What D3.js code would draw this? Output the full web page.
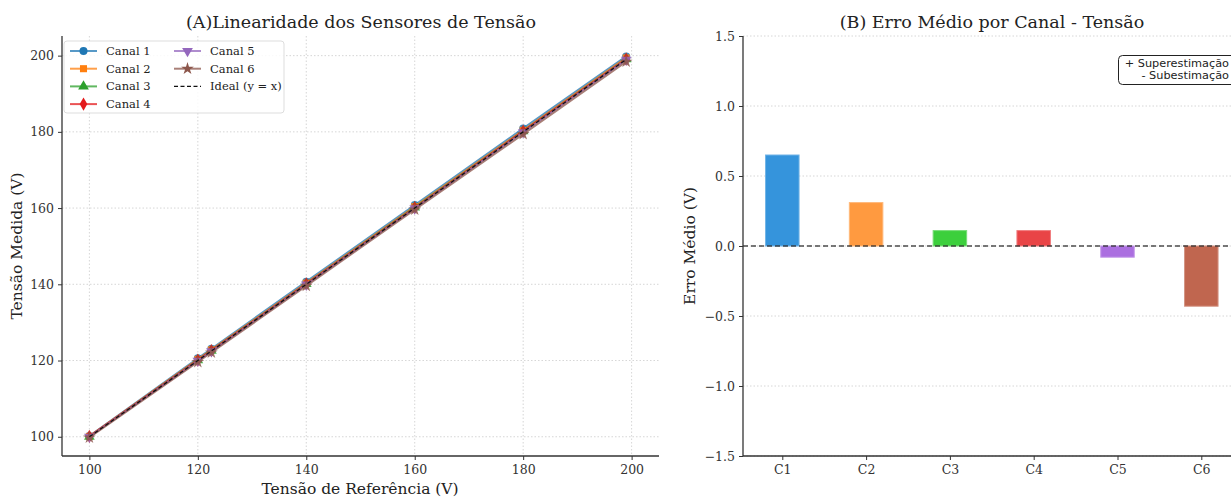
<!DOCTYPE html>
<html>
<head>
<meta charset="utf-8">
<script src="https://cdn.jsdelivr.net/npm/d3@7"></script>
<style>
  body { margin: 0; background: #fff; }
  svg { display: block; font-family: 'DejaVu Serif', serif; }
  .tick text { fill: #333; font-size: 12.5px; font-family: 'DejaVu Serif', serif; }
  .grid line { stroke: #ccc; stroke-dasharray: 1.5 2; stroke-width: 0.8; }
</style>
</head>
<body>
<svg id="chart" width="1231" height="497"></svg>
<script>
// reference voltages and measured values per channel
const refVoltage = [100, 120, 122.5, 140, 160, 180, 199]
const channelNames = ['Canal 1', 'Canal 2', 'Canal 3', 'Canal 4', 'Canal 5', 'Canal 6']
const canal1 = [100.2, 120.6, 123.1, 140.7, 160.8, 180.9, 199.8]
const canal2 = [100.1, 120.3, 122.8, 140.3, 160.4, 180.4, 199.4]
const canal3 = [100.0, 120.1, 122.6, 140.1, 160.2, 180.2, 199.1]
const canal4 = [100.1, 120.1, 122.6, 140.1, 160.1, 180.2, 199.1]
const canal5 = [100.0, 119.9, 122.4, 139.9, 159.9, 179.9, 198.9]
const canal6 = [99.8, 119.6, 122.1, 139.6, 159.6, 179.4, 198.4]
const lineColors = ['#1f77b4', '#ff7f0e', '#2ca02c', '#e31a1c', '#9467bd', '#8c564b']
const markerTypes = [d3.symbolCircle, d3.symbolSquare, d3.symbolTriangle, d3.symbolDiamond, 'down', d3.symbolStar]

// mean error per channel
const barLabels = ['C1', 'C2', 'C3', 'C4', 'C5', 'C6']
const meanError = [0.65, 0.31, 0.11, 0.11, -0.08, -0.43]
const barColors = ['#3594dc', '#ff9a40', '#3ccf3c', '#e94446', '#ab6fe0', '#c0664f']

const xTicksA = [100, 120, 140, 160, 180, 200]
const yTicksA = [100, 120, 140, 160, 180, 200]
const yTicksB = [-1.5, -1.0, -0.5, 0.0, 0.5, 1.0, 1.5]

const svg = d3.select('#chart')

/*
** PANEL A
*/
const A = { left: 62, right: 659, top: 36, bottom: 456 }
const xA = d3.scaleLinear().domain([94.95, 205.05]).range([A.left, A.right])
const yA = d3.scaleLinear().domain([94.95, 205.15]).range([A.bottom, A.top])

const gA = svg.append('g')

gA.append('g').attr('class', 'grid')
  .selectAll('line').data(xTicksA).enter().append('line')
  .attr('x1', d => xA(d)).attr('x2', d => xA(d)).attr('y1', A.top).attr('y2', A.bottom)
gA.append('g').attr('class', 'grid')
  .selectAll('line').data(yTicksA).enter().append('line')
  .attr('y1', d => yA(d)).attr('y2', d => yA(d)).attr('x1', A.left).attr('x2', A.right)

const series = [canal1, canal2, canal3, canal4, canal5, canal6]
const lineA = d3.line().x(d => xA(d[0])).y(d => yA(d[1]))

function symbolPath(type, size) {
  if (type === 'down') return d3.symbol(d3.symbolTriangle, size)()
  return d3.symbol(type, size)()
}

series.forEach((vals, i) => {
  const pts = refVoltage.map((r, j) => [r, vals[j]])
  gA.append('path')
    .datum(pts)
    .attr('d', lineA)
    .attr('fill', 'none')
    .attr('stroke', lineColors[i])
    .attr('stroke-width', 2)
    .attr('stroke-opacity', 0.75)
  gA.append('g').selectAll('path').data(pts).enter().append('path')
    .attr('d', symbolPath(markerTypes[i], 50))
    .attr('transform', d => `translate(${xA(d[0])},${yA(d[1])})` + (markerTypes[i] === 'down' ? ' rotate(180)' : ''))
    .attr('fill', lineColors[i])
    .attr('opacity', 0.85)
})

gA.append('path')
  .datum(refVoltage.map(r => [r, r]))
  .attr('d', lineA)
  .attr('fill', 'none')
  .attr('stroke', '#111')
  .attr('stroke-width', 1.3)
  .attr('stroke-dasharray', '4 2.5')

const axA_x = gA.append('g').attr('transform', `translate(0,${A.bottom})`)
  .call(d3.axisBottom(xA).tickValues(xTicksA).tickSize(4).tickPadding(5))
const axA_y = gA.append('g').attr('transform', `translate(${A.left},0)`)
  .call(d3.axisLeft(yA).tickValues(yTicksA).tickSize(4).tickPadding(4))
;[axA_x, axA_y].forEach(ax => {
  ax.select('.domain').attr('stroke', '#333').attr('stroke-width', 1.3)
  ax.selectAll('.tick line').attr('stroke', '#333')
})
axA_x.select('.domain').attr('d', `M${A.left},0H${A.right}`)
axA_y.select('.domain').attr('d', `M0,${A.bottom}V${A.top}`)

gA.append('text').attr('x', 361).attr('y', 28)
  .attr('text-anchor', 'middle').attr('font-size', 17.5).attr('fill', '#222')
  .text('(A)Linearidade dos Sensores de Tensão')
gA.append('text').attr('x', 360).attr('y', 494)
  .attr('text-anchor', 'middle').attr('font-size', 15.5).attr('fill', '#222')
  .text('Tensão de Referência (V)')
gA.append('text').attr('transform', `translate(22,${(A.top + A.bottom) / 2}) rotate(-90)`)
  .attr('text-anchor', 'middle').attr('font-size', 15.5).attr('fill', '#222')
  .text('Tensão Medida (V)')

// legend
const legend = gA.append('g')
legend.append('rect').attr('x', 64).attr('y', 41).attr('width', 220).attr('height', 72)
  .attr('rx', 3).attr('fill', 'rgba(255,255,255,0.85)').attr('stroke', '#ddd')
const legendItems = channelNames.map((n, i) => ({ name: n, color: lineColors[i], marker: markerTypes[i] }))
legendItems.push({ name: 'Ideal (y = x)', color: '#111', marker: null })
legendItems.forEach((it, i) => {
  const col = i < 4 ? 0 : 1
  const row = i < 4 ? i : i - 4
  const x0 = col === 0 ? 70 : 174
  const y0 = 51 + row * 17.7
  const g = legend.append('g')
  g.append('line').attr('x1', x0).attr('x2', x0 + 27).attr('y1', y0).attr('y2', y0)
    .attr('stroke', it.color).attr('stroke-width', it.marker ? 2 : 1.3)
    .attr('stroke-opacity', it.marker ? 0.75 : 1)
    .attr('stroke-dasharray', it.marker ? null : '4 2.5')
  if (it.marker) {
    g.append('path').attr('d', symbolPath(it.marker, 50))
      .attr('transform', `translate(${x0 + 13.5},${y0})` + (it.marker === 'down' ? ' rotate(180)' : ''))
      .attr('fill', it.color)
  }
  g.append('text').attr('x', x0 + 36).attr('y', y0 + 4).attr('font-size', 11.5)
    .attr('fill', '#222').text(it.name)
})

/*
** PANEL B
*/
const B = { left: 743, top: 36, bottom: 456 }
const xC = d3.scalePoint().domain(barLabels).range([782.3, 782.3 + 5 * 83.8])
const yB = d3.scaleLinear().domain([-1.5, 1.5]).range([B.bottom, B.top])
const barW = 0.4 * 83.8

const gB = svg.append('g')
gB.append('g').attr('class', 'grid')
  .selectAll('line').data(yTicksB).enter().append('line')
  .attr('y1', d => yB(d)).attr('y2', d => yB(d)).attr('x1', B.left).attr('x2', 1231)

gB.selectAll('.bar').data(meanError).enter().append('rect')
  .attr('class', 'bar')
  .attr('x', (d, i) => xC(barLabels[i]) - barW / 2)
  .attr('width', barW)
  .attr('y', d => yB(Math.max(0, d)))
  .attr('height', d => Math.abs(yB(d) - yB(0)))
  .attr('fill', (d, i) => barColors[i])
  .attr('stroke', (d, i) => d3.interpolateRgb(barColors[i], '#fff')(0.3))
  .attr('stroke-width', 1)

gB.append('line').attr('x1', B.left).attr('x2', 1231).attr('y1', yB(0)).attr('y2', yB(0))
  .attr('stroke', '#222').attr('stroke-opacity', 0.8).attr('stroke-width', 1.3)
  .attr('stroke-dasharray', '5 3')

const axB_x = gB.append('g').attr('transform', `translate(0,${B.bottom})`)
  .call(d3.axisBottom(xC).tickSize(4).tickPadding(5))
const axB_y = gB.append('g').attr('transform', `translate(${B.left},0)`)
  .call(d3.axisLeft(yB).tickValues(yTicksB).tickFormat(d => d3.format('.1f')(d).replace('-', '\u2212')).tickSize(4).tickPadding(4))
;[axB_x, axB_y].forEach(ax => {
  ax.select('.domain').attr('stroke', '#333').attr('stroke-width', 1.3)
  ax.selectAll('.tick line').attr('stroke', '#333')
})
axB_x.select('.domain').attr('d', `M${B.left},0H1231`)
axB_y.select('.domain').attr('d', `M0,${B.bottom}V${B.top}`)

gB.append('text').attr('x', 992).attr('y', 28)
  .attr('text-anchor', 'middle').attr('font-size', 17.5).attr('fill', '#222')
  .text('(B) Erro Médio por Canal - Tensão')
gB.append('text').attr('transform', `translate(695,${(B.top + B.bottom) / 2}) rotate(-90)`)
  .attr('text-anchor', 'middle').attr('font-size', 15.5).attr('fill', '#222')
  .text('Erro Médio (V)')

// annotation box
const note = gB.append('g')
note.append('rect').attr('x', 1118.5).attr('y', 55.5).attr('width', 130).attr('height', 29)
  .attr('rx', 4).attr('fill', '#fff').attr('stroke', '#222').attr('stroke-width', 1)
note.append('text').attr('x', 1229).attr('y', 67).attr('text-anchor', 'end')
  .attr('font-family', 'DejaVu Sans, sans-serif').attr('font-size', 11.3).attr('fill', '#222')
  .text('+ Superestimação')
note.append('text').attr('x', 1229).attr('y', 79).attr('text-anchor', 'end')
  .attr('font-family', 'DejaVu Sans, sans-serif').attr('font-size', 11.3).attr('fill', '#222')
  .text('- Subestimação')
</script>
</body>
</html>
